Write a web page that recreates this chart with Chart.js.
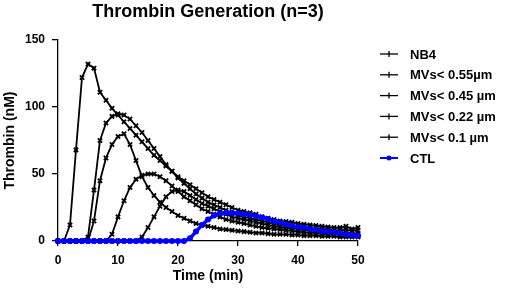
<!DOCTYPE html>
<html>
<head>
<meta charset="utf-8">
<script src="https://cdn.jsdelivr.net/npm/chart.js@4.4.1/dist/chart.umd.min.js"></script>
<style>
  html, body { margin: 0; padding: 0; background: #fff; }
  #wrap { width: 520px; height: 289px; }
</style>
</head>
<body>
<div id="wrap"><canvas id="tg" width="520" height="289"></canvas></div>
<script>
// time points (min)
const timeMin = [0,1,2,3,4,5,6,7,8,9,10,11,12,13,14,15,16,17,18,19,20,21,22,23,24,25,26,27,28,29,30,31,32,33,34,35,36,37,38,39,40,41,42,43,44,45,46,47,48,49,50];

// thrombin (nM) per series
const nb4 = [0,0,12,68,122,132,129,111,105,99,94,89,84,79,74,69,64,60,56,52,48,45,42,39,36,33,31,29,27,25,23,22,21,20,18,17,16,15,14.5,14,13,12.5,12,11.5,11,10.5,10,10,11,9,10];
const mv055 = [0,0,0,0,0,3,38,75,88,93,95,94,91,86,81,75,69,63,57,52,47,43,39,35,32,29,27,25,23,21,19,18,17,16,15,14,13,12.5,12,11,10.5,10,9.5,9,9,8.5,8,8,8.5,7.5,8];
const mv045 = [0,0,0,0,0,0,15,45,62,72,78,80,72,60,48,40,34,29,25,22,19,17,15,13,12,11,10,9,8.5,8,7.5,7,6.5,6,6,5.5,5,5,5,4.5,4.5,4,4,4,3.5,3.5,3.5,3,3,3,3];
const mv022 = [0,0,0,0,0,0,0,0,0,5,18,30,40,46,49,50,50,48,45,41,37,33,30,27,24,22,20,18,16,15,14,13,12,11,10,9.5,9,8.5,8,7.5,7,6.5,6,6,5.5,5,5,5,4.5,4.5,4];
const mv01 = [0,0,0,0,0,0,0,0,0,0,0,0,0,0,3,10,18,26,33,37,38,37,34,31,28,26,24,22,20,18,17,16,15,14,13,12,11,10.5,10,9.5,9,8.5,8,7.5,7,7,6.5,6,6,5.5,5.5];
const ctl = [0,0,0,0,0,0,0,0,0,0,0,0,0,0,0,0,0,0,0,0,0,0,2,7,12,16,19,20.5,21,21,20.5,20,19.5,18.5,17.5,16.5,15,14,12.5,11.5,10.5,10,9,8.5,7.5,7,6.5,6,5,4.5,4];

const seriesNames = ['NB4', 'MVs< 0.55µm', 'MVs< 0.45 µm', 'MVs< 0.22 µm', 'MVs< 0.1 µm', 'CTL'];
const xTicks = [0, 10, 20, 30, 40, 50];
const yTicks = [0, 50, 100, 150];

const fontFam = "'Liberation Sans', Arial, sans-serif";
const black = '#000000';
const blue = '#0000ff';

const toXY = vals => vals.map((v, i) => ({ x: timeMin[i], y: v }));

const blackSeries = (label, vals) => ({
    label: label,
    data: toXY(vals),
    borderColor: black,
    backgroundColor: black,
    borderWidth: 1.8,
    pointStyle: 'crossRot',
    pointRadius: 3,
    pointBorderWidth: 1.8,
    tension: 0,
    clip: false,
});

// title + legend drawn by hand so they sit where the figure has them
const decorPlugin = {
    id: 'decor',
    afterDraw(chart) {
        const ctx = chart.ctx;
        const area = chart.chartArea;
        ctx.save();
        ctx.fillStyle = black;
        ctx.font = 'bold 18px ' + fontFam;
        ctx.textAlign = 'center';
        ctx.textBaseline = 'middle';
        ctx.fillText('Thrombin Generation (n=3)', (area.left + area.right) / 2, 12);

        ctx.font = 'bold 13px ' + fontFam;
        ctx.textAlign = 'left';
        chart.data.datasets.forEach((ds, i) => {
            const y = 54 + i * 20.8;
            const col = ds.borderColor;
            ctx.strokeStyle = col;
            ctx.fillStyle = col;
            ctx.lineWidth = ds.label === 'CTL' ? 2 : 1.3;
            ctx.beginPath();
            ctx.moveTo(380, y);
            ctx.lineTo(398, y);
            ctx.stroke();
            if (ds.label === 'CTL') {
                ctx.beginPath();
                ctx.arc(389, y, 2.5, 0, Math.PI * 2);
                ctx.fill();
            } else {
                ctx.beginPath();
                ctx.moveTo(389, y - 3);
                ctx.lineTo(389, y + 3);
                ctx.stroke();
            }
            ctx.fillStyle = black;
            ctx.fillText(ds.label, 410, y + 1);
        });
        ctx.restore();
    }
};

const ctx = document.getElementById('tg').getContext('2d');
new Chart(ctx, {
    type: 'line',
    data: {
        datasets: [
            blackSeries(seriesNames[0], nb4),
            blackSeries(seriesNames[1], mv055),
            blackSeries(seriesNames[2], mv045),
            blackSeries(seriesNames[3], mv022),
            blackSeries(seriesNames[4], mv01),
            {
                label: seriesNames[5],
                data: toXY(ctl),
                borderColor: blue,
                backgroundColor: blue,
                borderWidth: 3.5,
                pointStyle: 'circle',
                pointRadius: 3,
                pointBorderWidth: 0,
                tension: 0,
                clip: false,
                order: -1,
            }
        ]
    },
    options: {
        responsive: false,
        animation: false,
        layout: { padding: { top: 40, right: 162, left: 0, bottom: 0 } },
        plugins: {
            legend: { display: false },
            title: { display: false },
            tooltip: { enabled: false }
        },
        scales: {
            x: {
                type: 'linear',
                min: 0,
                max: 50,
                afterBuildTicks: s => { s.ticks = xTicks.map(v => ({ value: v })); },
                afterFit: s => { s.height = 48; },
                grid: { drawOnChartArea: false, drawTicks: true, tickLength: 5, color: black, lineWidth: 1.3 },
                border: { color: black, width: 1.3 },
                ticks: {
                    color: black,
                    padding: 7,
                    maxRotation: 0,
                    font: { family: fontFam, size: 12, weight: 'bold' }
                },
                title: {
                    display: true,
                    text: 'Time (min)',
                    color: black,
                    padding: { top: 2, bottom: 4 },
                    font: { family: fontFam, size: 14, weight: 'bold' }
                }
            },
            y: {
                min: 0,
                max: 150,
                afterBuildTicks: s => { s.ticks = yTicks.map(v => ({ value: v })); },
                afterFit: s => { s.width = 58; },
                grid: { drawOnChartArea: false, drawTicks: true, tickLength: 6, color: black, lineWidth: 1.3 },
                border: { color: black, width: 1.3 },
                ticks: {
                    color: black,
                    padding: 7,
                    font: { family: fontFam, size: 12, weight: 'bold' }
                },
                title: {
                    display: true,
                    text: 'Thrombin (nM)',
                    color: black,
                    padding: { top: 2, bottom: 2 },
                    font: { family: fontFam, size: 14, weight: 'bold' }
                }
            }
        }
    },
    plugins: [decorPlugin]
});
</script>
</body>
</html>
